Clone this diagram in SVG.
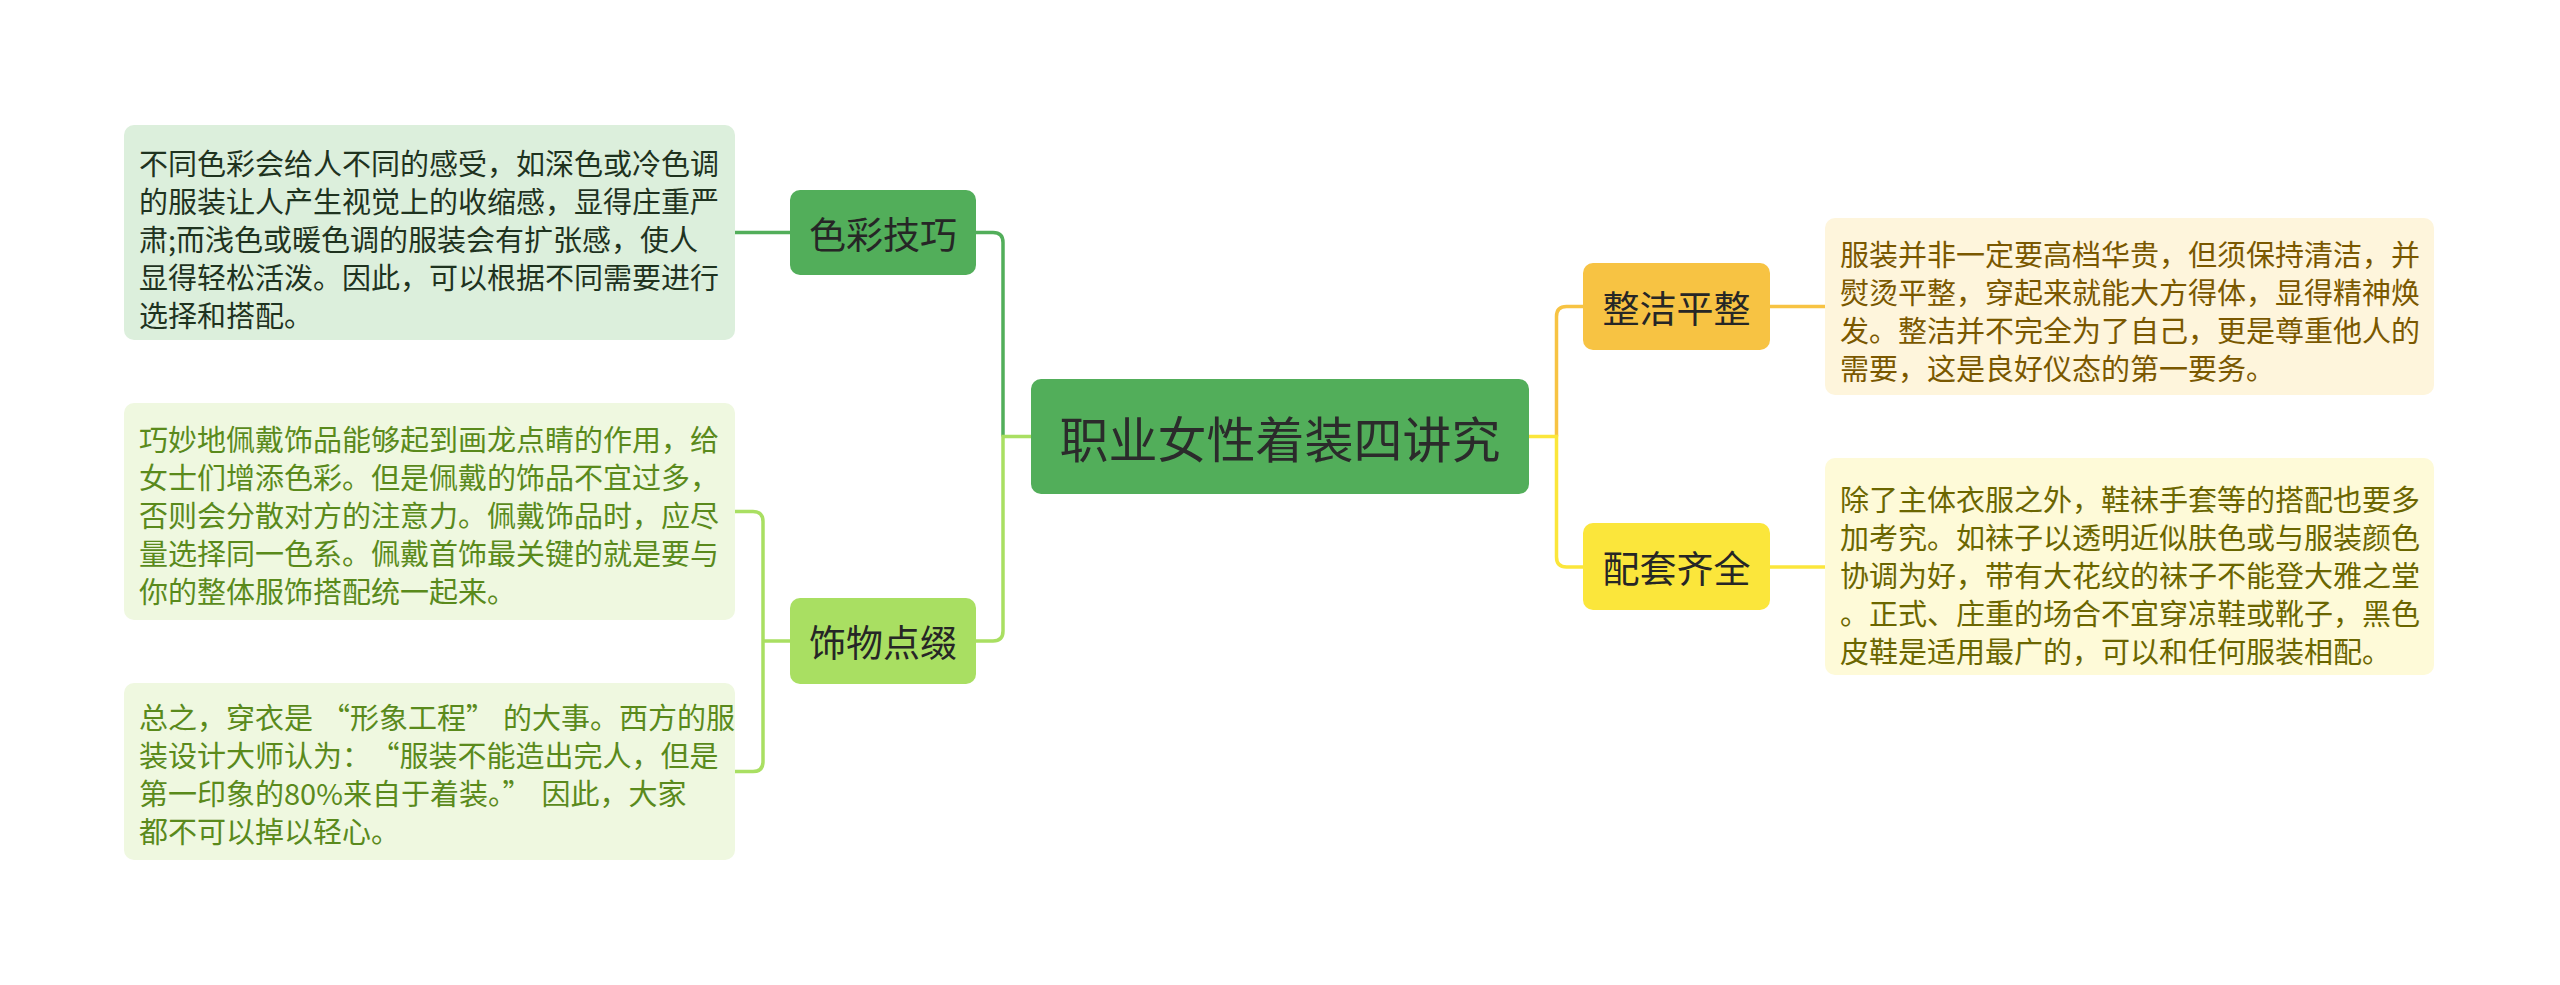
<svg xmlns="http://www.w3.org/2000/svg" width="2560" height="985" viewBox="0 0 2560 985">
<style>
.t{font-family:"Noto Sans CJK SC","Noto Sans",sans-serif;dominant-baseline:central}
.leaf{font-size:29px}
.node{font-size:37px;fill:#262626;text-anchor:middle}
.c{fill:none;stroke-width:3.5}
</style>
<rect width="2560" height="985" fill="#ffffff"/>
<g id="connectors">
<path class="c" stroke="#52ae5a" d="M1003,436.5 V242.5 Q1003,232.5 993,232.5 H976"/>
<path class="c" stroke="#a9df62" d="M1031,436.5 H1003 V631 Q1003,641 993,641 H976"/>
<path class="c" stroke="#52ae5a" d="M790,232.5 H735"/>
<path class="c" stroke="#a9df62" d="M790,641 H763"/>
<path class="c" stroke="#a9df62" d="M735,511.5 H753 Q763,511.5 763,521.5 V761.5 Q763,771.5 753,771.5 H735"/>
<path class="c" stroke="#f7c343" d="M1556.5,436.5 V316.5 Q1556.5,306.5 1566.5,306.5 H1583"/>
<path class="c" stroke="#fbe63b" d="M1529,436.5 H1556.5 V557 Q1556.5,567 1566.5,567 H1583"/>
<path class="c" stroke="#f7c343" d="M1770,306.5 H1825"/>
<path class="c" stroke="#fbe63b" d="M1770,567 H1825"/>
</g>
<g id="root">
<rect x="1031" y="379" width="498" height="115" rx="10" fill="#52ae5a"/>
<text class="t" x="1280" y="436.5" font-size="49" fill="#2b2b2b" text-anchor="middle">职业女性着装四讲究</text>
</g>
<g id="n-secai">
<rect x="790" y="190" width="186" height="85" rx="10" fill="#52ae5a"/>
<text class="t node" x="883" y="232.5">色彩技巧</text>
</g>
<g id="n-shiwu">
<rect x="790" y="598" width="186" height="86" rx="10" fill="#a9df62"/>
<text class="t node" x="883" y="641">饰物点缀</text>
</g>
<g id="n-zhengjie">
<rect x="1583" y="263" width="187" height="87" rx="10" fill="#f7c343"/>
<text class="t node" x="1676.5" y="306.5">整洁平整</text>
</g>
<g id="n-peitao">
<rect x="1583" y="523" width="187" height="87" rx="10" fill="#fbe63b"/>
<text class="t node" x="1676.5" y="567">配套齐全</text>
</g>
<g id="leaf-secai">
<rect x="124" y="125" width="611" height="215" rx="10" fill="#dcefdc"/>
<text class="t leaf" fill="#1f331f" x="139">
<tspan x="139" y="161.7">不同色彩会给人不同的感受，如深色或冷色调</tspan>
<tspan x="139" y="199.7">的服装让人产生视觉上的收缩感，显得庄重严</tspan>
<tspan x="139" y="237.7">肃;而浅色或暖色调的服装会有扩张感，使人</tspan>
<tspan x="139" y="275.7">显得轻松活泼。因此，可以根据不同需要进行</tspan>
<tspan x="139" y="313.7">选择和搭配。</tspan>
</text>
</g>
<g id="leaf-shiwu1">
<rect x="124" y="403" width="611" height="217" rx="10" fill="#eff8e0"/>
<text class="t leaf" fill="#5a8a1c" x="139">
<tspan x="139" y="438">巧妙地佩戴饰品能够起到画龙点睛的作用，给</tspan>
<tspan x="139" y="476">女士们增添色彩。但是佩戴的饰品不宜过多，</tspan>
<tspan x="139" y="514">否则会分散对方的注意力。佩戴饰品时，应尽</tspan>
<tspan x="139" y="552">量选择同一色系。佩戴首饰最关键的就是要与</tspan>
<tspan x="139" y="590">你的整体服饰搭配统一起来。</tspan>
</text>
</g>
<g id="leaf-shiwu2">
<rect x="124" y="683" width="611" height="177" rx="10" fill="#eff8e0"/>
<text class="t leaf" fill="#5a8a1c" x="139">
<tspan x="139" y="716.3">总之，穿衣是<tspan dx="8">“</tspan>形象工程”<tspan dx="8">的</tspan>大事。西方的服</tspan>
<tspan x="139" y="754.3">装设计大师认为：<tspan dx="14">“</tspan>服装不能造出完人，但是</tspan>
<tspan x="139" y="792.3">第一印象的80%来自于着装。”<tspan dx="10">因</tspan>此，大家</tspan>
<tspan x="139" y="830.3">都不可以掉以轻心。</tspan>
</text>
</g>
<g id="leaf-zhengjie">
<rect x="1825" y="218" width="609" height="177" rx="10" fill="#fef5dc"/>
<text class="t leaf" fill="#7a5800" x="1840">
<tspan x="1840" y="252.5">服装并非一定要高档华贵，但须保持清洁，并</tspan>
<tspan x="1840" y="290.5">熨烫平整，穿起来就能大方得体，显得精神焕</tspan>
<tspan x="1840" y="328.5">发。整洁并不完全为了自己，更是尊重他人的</tspan>
<tspan x="1840" y="366.5">需要，这是良好仪态的第一要务。</tspan>
</text>
</g>
<g id="leaf-peitao">
<rect x="1825" y="458" width="609" height="217" rx="10" fill="#fefad8"/>
<text class="t leaf" fill="#6b6600" x="1840">
<tspan x="1840" y="498">除了主体衣服之外，鞋袜手套等的搭配也要多</tspan>
<tspan x="1840" y="536">加考究。如袜子以透明近似肤色或与服装颜色</tspan>
<tspan x="1840" y="574">协调为好，带有大花纹的袜子不能登大雅之堂</tspan>
<tspan x="1840" y="612">。正式、庄重的场合不宜穿凉鞋或靴子，黑色</tspan>
<tspan x="1840" y="650">皮鞋是适用最广的，可以和任何服装相配。</tspan>
</text>
</g>
</svg>
